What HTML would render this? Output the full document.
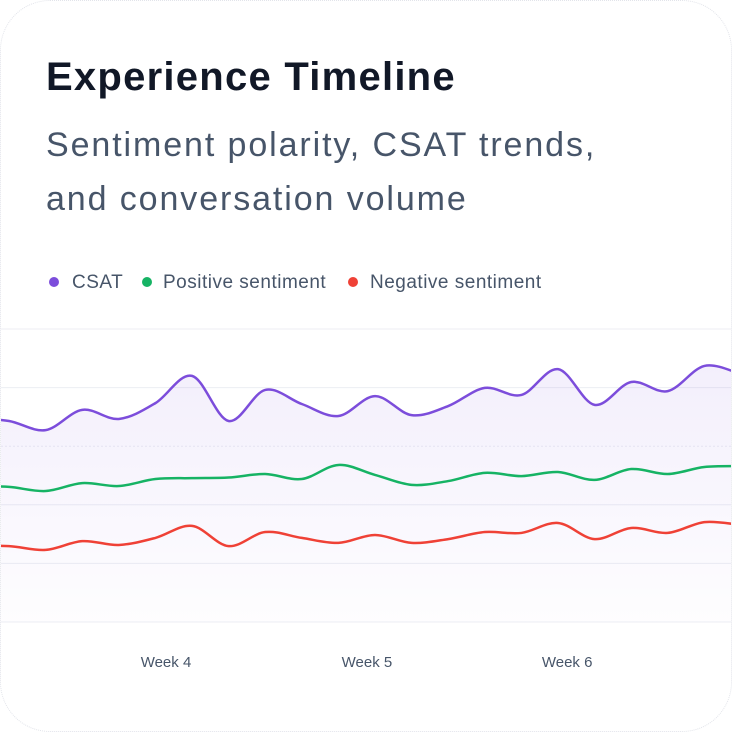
<!DOCTYPE html>
<html><head><meta charset="utf-8">
<style>
html,body{margin:0;padding:0;background:#fff;}
body{width:732px;height:732px;overflow:hidden;position:relative;font-family:"Liberation Sans",sans-serif;}
#card{position:absolute;left:0;top:0;width:730px;height:730px;border:1px dotted #e2e4ea;border-radius:50px;background:#fff;overflow:hidden;}
#title{position:absolute;left:45px;top:52px;font-size:40px;font-weight:bold;color:#111827;margin:0;white-space:nowrap;letter-spacing:1.25px;line-height:48px;}
#subtitle{position:absolute;left:45px;top:117px;font-size:34px;line-height:54px;color:#475569;margin:0;white-space:nowrap;letter-spacing:1.9px;}
.lt{position:absolute;top:270px;font-size:19px;color:#475569;white-space:nowrap;letter-spacing:0.5px;line-height:24px;}
.dot{position:absolute;top:276px;width:10px;height:10px;border-radius:50%;}
svg{position:absolute;left:0;top:0;}
</style></head>
<body>
<div id="card">
<h1 id="title">Experience Timeline</h1>
<p id="subtitle">Sentiment polarity, CSAT trends,<br>and conversation volume</p>
<div>
<span class="dot" style="left:48px;background:#7c4ddb"></span>
<span class="lt" style="left:71px">CSAT</span>
<span class="dot" style="left:141px;background:#16b364"></span>
<span class="lt" style="left:162px">Positive sentiment</span>
<span class="dot" style="left:347px;background:#ef4136"></span>
<span class="lt" style="left:369px">Negative sentiment</span>
</div>
<svg id="chart" width="732" height="732"></svg>
</div>
<script>
const csat = [69.6,68.6,65.5,72.4,69.3,74.7,84.0,68.6,79.2,74.4,70.3,77.1,70.6,73.7,79.9,77.5,86.3,74.1,81.9,78.8,87.4,84.6];
const positive = [46.4,46.1,44.7,47.4,46.4,48.8,49.1,49.3,50.5,48.8,53.6,50.2,46.8,48.1,50.9,49.8,51.2,48.5,52.2,50.5,52.9,53.2];
const negative = [25.9,25.9,24.6,27.6,26.3,28.7,32.8,25.9,30.7,28.7,27.0,29.7,27.0,28.3,30.7,30.4,33.8,28.3,32.1,30.4,34.1,33.1];
const gridValues = [0,20,40,60,80,100];
const weekLabels = ["Week 4","Week 5","Week 6"];
const weekPositions = [5.29,10.78,16.25];

const NS="http://www.w3.org/2000/svg";
const svg=document.getElementById('chart');
const x=i=>-28.6+36.6*i;
const y=v=>621-v*2.93;
function mk(t,a){const e=document.createElementNS(NS,t);for(const k in a)e.setAttribute(k,a[k]);svg.appendChild(e);return e;}
const defs=document.createElementNS(NS,'defs');
defs.innerHTML='<linearGradient id="g" x1="0" y1="0" x2="0" y2="1"><stop offset="0" stop-color="#7c4ddb" stop-opacity="0.09"/><stop offset="1" stop-color="#7c4ddb" stop-opacity="0.01"/></linearGradient>';
svg.appendChild(defs);
gridValues.forEach((v,i)=>{
  const l=mk('line',{x1:0,x2:732,y1:y(v),y2:y(v),stroke:'#eceef3','stroke-width':1});
  if(v===60) l.setAttribute('stroke-dasharray','2 2');
  
  
});
function path(vals){
  const p=vals.map((v,i)=>[x(i),y(v)]);
  let d='M'+p[0][0]+','+p[0][1];
  for(let i=0;i<p.length-1;i++){
    const p0=p[Math.max(0,i-1)],p1=p[i],p2=p[i+1],p3=p[Math.min(p.length-1,i+2)];
    const c1x=p1[0]+(p2[0]-p0[0])/6,c1y=p1[1]+(p2[1]-p0[1])/6;
    const c2x=p2[0]-(p3[0]-p1[0])/6,c2y=p2[1]-(p3[1]-p1[1])/6;
    d+=' C'+c1x+','+c1y+' '+c2x+','+c2y+' '+p2[0]+','+p2[1];
  }
  return d;
}
const area=mk('path',{d:path(csat)+' L'+x(csat.length-1)+','+y(0)+' L'+x(0)+','+y(0)+' Z',fill:'url(#g)'});


[[negative,'#ef4136','negative-line'],[positive,'#16b364','positive-line'],[csat,'#7c4ddb','csat-line']].forEach(s=>{
  const e=mk('path',{d:path(s[0]),fill:'none',stroke:s[1],'stroke-width':2.5,'stroke-linecap':'round'});
  
  
});
weekLabels.forEach((t,i)=>{
  const e=mk('text',{x:x(weekPositions[i]),y:666,'text-anchor':'middle','font-size':15,fill:'#475569','font-family':'Liberation Sans, sans-serif'});
  e.textContent=t;
  
  
});
</script>
</body></html>
